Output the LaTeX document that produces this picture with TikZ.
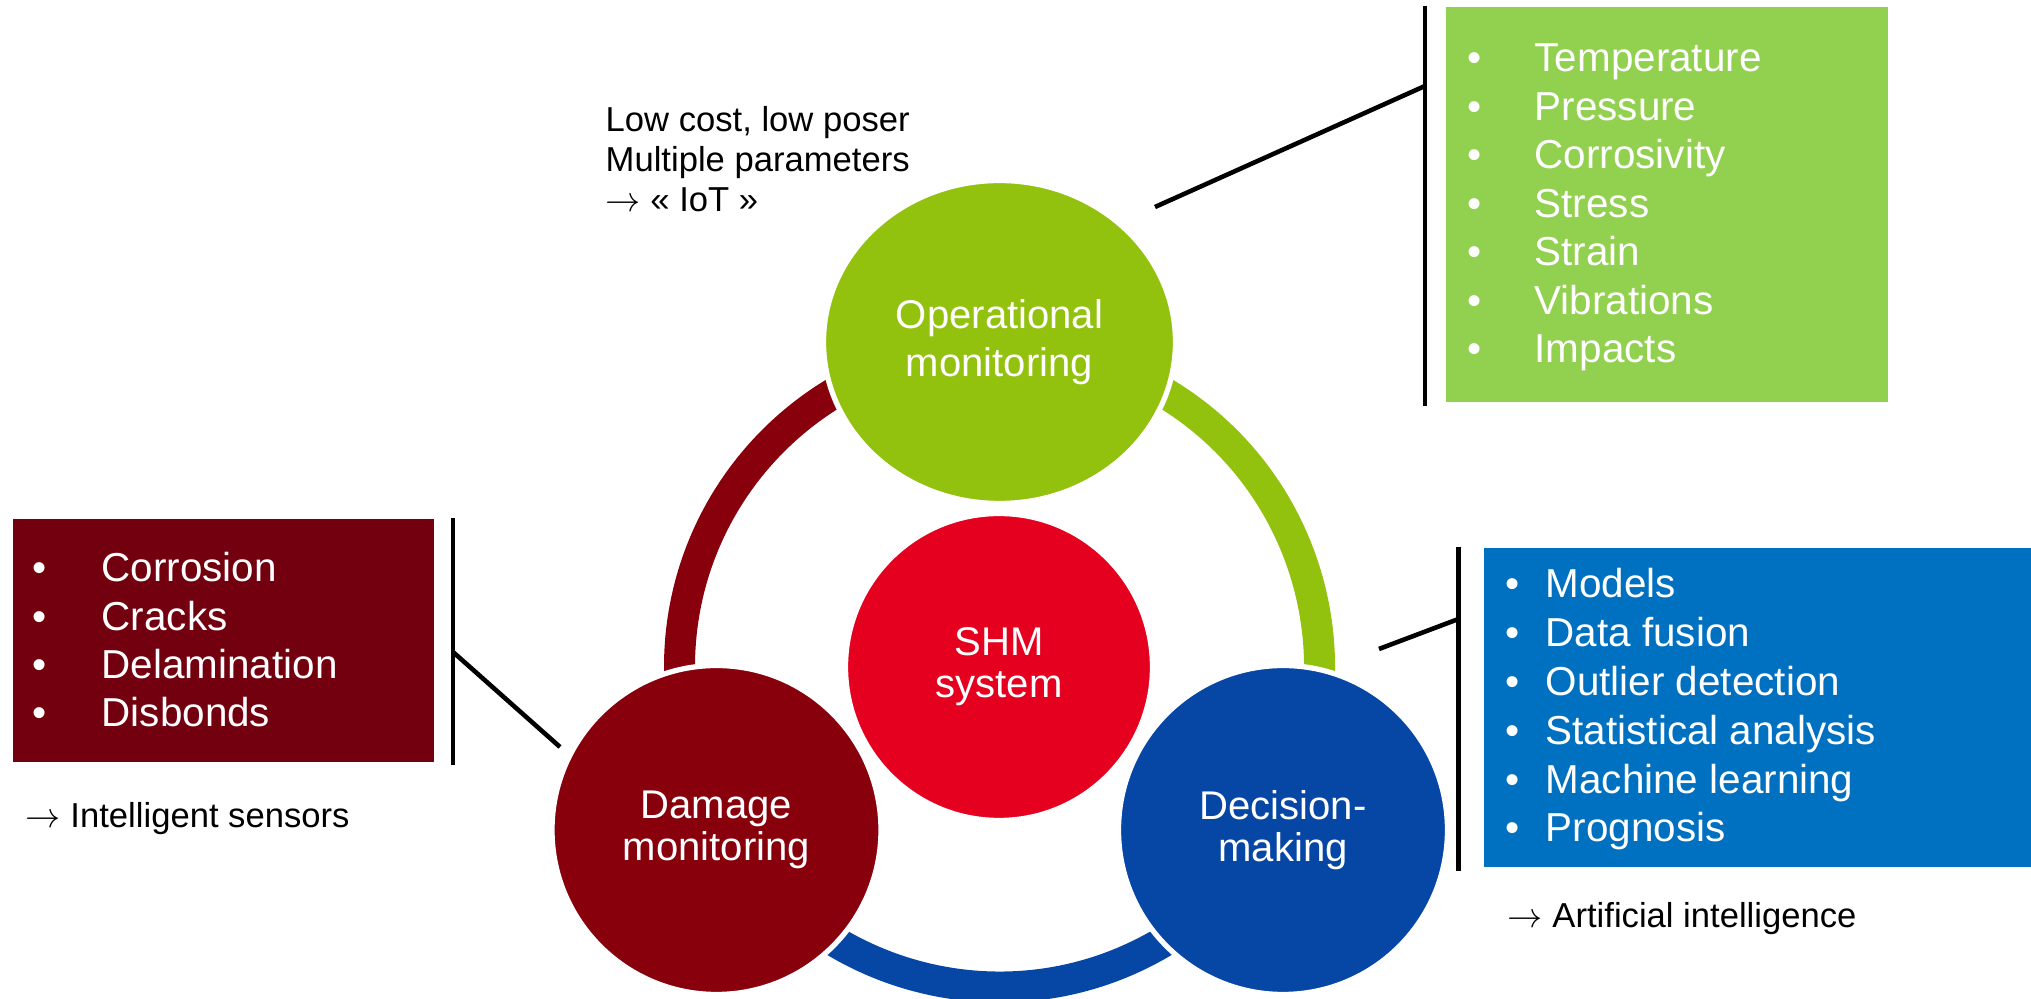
\documentclass[tikz,border=0pt]{standalone}
\usepackage{fontspec}
\setmainfont{Liberation Sans}
\usetikzlibrary{shapes.geometric}

\definecolor{opgreen}{RGB}{146,193,14}
\definecolor{opbox}{RGB}{146,208,80}
\definecolor{shmred}{RGB}{228,0,30}
\definecolor{dmgred}{RGB}{135,0,12}
\definecolor{dmgbox}{RGB}{114,0,14}
\definecolor{decblue}{RGB}{6,71,166}
\definecolor{decbox}{RGB}{0,112,192}

\begin{document}
\begin{tikzpicture}[
    bubble/.style = {circle, draw=white, line width=1.5pt, inner sep=0pt, outer sep=0pt,
                     text=white, align=center, font=\fontsize{11.4}{11.95}\selectfont},
    listbox/.style = {rectangle, inner sep=0pt, outer sep=0pt, anchor=north west},
    bracketline/.style = {line width=1.3pt},
    ring/.style = {line width=0.31cm},
    bul/.style = {anchor=base, inner sep=0pt, text=white, font=\fontsize{11.5}{13.8}\selectfont},
    itm/.style = {anchor=base west, inner sep=0pt, text=white, font=\fontsize{11.5}{13.8}\selectfont},
    note/.style = {anchor=base west, inner sep=0pt, align=left, font=\fontsize{9.85}{11.4}\selectfont}
]
    \useasboundingbox (0,0) rectangle (20.31,9.99);

    % ring behind the circles
    \coordinate (hub) at (9.995,3.32);
    \draw[ring, dmgred] ([shift={(90:3.2)}]hub) arc[start angle=90, end angle=210, radius=3.2];
    \draw[ring, decblue] ([shift={(210:3.2)}]hub) arc[start angle=210, end angle=330, radius=3.2];
    \draw[ring, opgreen] ([shift={(330:3.2)}]hub) arc[start angle=330, end angle=450, radius=3.2];

    % circles
    \node[bubble, ellipse, fill=opgreen, minimum width=3.52cm, minimum height=3.23cm,
          font=\fontsize{11.4}{13.7}\selectfont] (op) at (9.995,6.57) {Operational\\monitoring};
    \node[bubble, fill=shmred, minimum size=3.07cm] (shm) at (9.99,3.32) {SHM\\system};
    \node[bubble, fill=dmgred, minimum size=3.29cm] (dmg) at (7.165,1.69) {Damage\\monitoring};
    \node[bubble, fill=decblue, minimum size=3.29cm] (dec) at (12.83,1.69) {Decision-\\making};

    % boxes
    \node[listbox, fill=opbox, minimum width=4.42cm, minimum height=3.95cm] (opbx) at (14.46,9.92) {};
    \node[listbox, fill=decbox, minimum width=5.47cm, minimum height=3.19cm] (decbx) at (14.84,4.51) {};
    \node[listbox, fill=dmgbox, minimum width=4.21cm, minimum height=2.43cm] (dmgbx) at (0.13,4.80) {};

    % lists
    \foreach \word [count=\i] in {Temperature,Pressure,Corrosivity,Stress,Strain,Vibrations,Impacts} {
        \node[bul] (opb\i) at (14.745, 9.755-0.485*\i) {\textbullet};
        \node[itm] (opt\i) at (15.34, 9.755-0.485*\i) {\word};
    }
    \foreach \word [count=\i] in {Models,Data fusion,Outlier detection,Statistical analysis,Machine learning,Prognosis} {
        \node[bul] (decb\i) at (15.125, 4.498-0.488*\i) {\textbullet};
        \node[itm] (dect\i) at (15.45, 4.498-0.488*\i) {\word};
    }
    \foreach \word [count=\i] in {Corrosion,Cracks,Delamination,Disbonds} {
        \node[bul] (dmgb\i) at (0.40, 4.653-0.483*\i) {\textbullet};
        \node[itm] (dmgt\i) at (1.01, 4.653-0.483*\i) {\word};
    }

    % brackets and leader lines
    \coordinate (optop) at (14.25,9.93);
    \coordinate (opbot) at (14.25,5.93);
    \coordinate (opjoin) at (14.25,9.13);
    \coordinate (optip) at (11.55,7.92);
    \draw[bracketline] (optop) -- (opbot);
    \draw[bracketline] (optip) -- (opjoin);

    \coordinate (dectop) at (14.585,4.52);
    \coordinate (decbot) at (14.585,1.28);
    \coordinate (decjoin) at (14.585,3.80);
    \coordinate (dectip) at (13.79,3.50);
    \draw[bracketline] (dectop) -- (decbot);
    \draw[bracketline] (dectip) -- (decjoin);

    \coordinate (dmgtop) at (4.53,4.81);
    \coordinate (dmgbot) at (4.53,2.34);
    \coordinate (dmgjoin) at (4.53,3.47);
    \coordinate (dmgtip) at (5.60,2.52);
    \draw[bracketline] (dmgtop) -- (dmgbot);
    \draw[bracketline] (dmgjoin) -- (dmgtip);

    % notes (base = last line)
    \node[note] (iot) at (6.05,7.87) {Low cost, low poser\\Multiple parameters\\$\rightarrow$ « IoT »};
    \node[note] (sens) at (0.25,1.71) {$\rightarrow$ Intelligent sensors};
    \node[note] (ai) at (15.07,0.71) {$\rightarrow$ Artificial intelligence};
\end{tikzpicture}
\end{document}
